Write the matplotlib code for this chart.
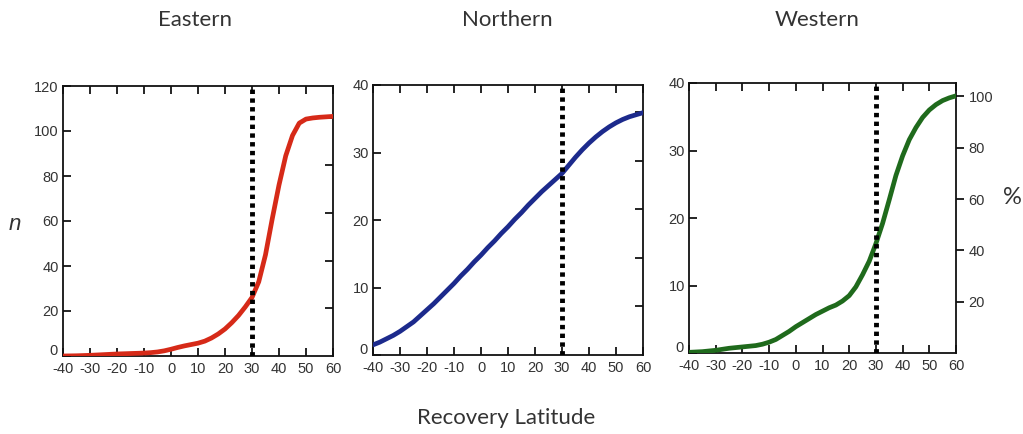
import matplotlib
matplotlib.use("Agg")
import matplotlib.pyplot as plt
from matplotlib.transforms import ScaledTranslation

plt.rcParams["font.family"] = ["Liberation Sans", "DejaVu Sans"]
plt.rcParams["axes.unicode_minus"] = False

# ---- data ----
titles = ["Eastern", "Northern", "Western"]
lat = [-40, -37.5, -35, -32.5, -30, -27.5, -25, -22.5, -20, -17.5, -15, -12.5, -10, -7.5,
       -5, -2.5, 0, 2.5, 5, 7.5, 10, 12.5, 15, 17.5, 20, 22.5, 25, 27.5, 30, 32.5, 35,
       37.5, 40, 42.5, 45, 47.5, 50, 52.5, 55, 57.5, 60]
eastern = [0, 0.05, 0.1, 0.2, 0.3, 0.45, 0.6, 0.75, 0.9, 1.0, 1.1, 1.2, 1.3, 1.5,
           1.8, 2.3, 3.0, 3.8, 4.5, 5.1, 5.7, 6.6, 8.0, 9.8, 12, 14.8, 18, 21.8, 26, 33, 45,
           61, 76, 89, 98, 103.5, 105.3, 105.8, 106.1, 106.3, 106.5]
northern = [1.5, 1.9, 2.4, 2.9, 3.5, 4.2, 4.9, 5.8, 6.7, 7.6, 8.6, 9.6, 10.6, 11.7,
            12.7, 13.8, 14.8, 15.9, 16.9, 18.0, 19.0, 20.1, 21.1, 22.2, 23.2, 24.2, 25.1, 26.0, 26.9, 28.1, 29.3,
            30.4, 31.4, 32.3, 33.1, 33.8, 34.4, 34.9, 35.3, 35.6, 35.9]
western = [0.1, 0.15, 0.2, 0.3, 0.4, 0.55, 0.7, 0.8, 0.9, 1.0, 1.1, 1.3, 1.6, 2.0,
           2.6, 3.2, 3.9, 4.5, 5.1, 5.7, 6.2, 6.7, 7.1, 7.7, 8.5, 9.8, 11.6, 13.6, 16.2, 19.2, 22.7,
           26.3, 29.2, 31.6, 33.4, 34.9, 36.0, 36.8, 37.4, 37.8, 38.1]
series = [eastern, northern, western]
colors = ["#d62a18", "#1c2a8c", "#1f6a1c"]
ymax = [120, 40, 40]
yticks = [[0, 20, 40, 60, 80, 100, 120], [0, 10, 20, 30, 40], [0, 10, 20, 30, 40]]
xticks = [-40, -30, -20, -10, 0, 10, 20, 30, 40, 50, 60]
n_total = [106, 36, 38]          # n corresponding to 100 %
pct_ticks = [20, 40, 60, 80, 100]
cutoff = 30

W, H = 1023, 434
fig = plt.figure(figsize=(W / 100, H / 100), dpi=100)
boxes = [(63, 333, 86, 356), (373, 643, 85, 355), (689, 956, 83, 353)]
title_x = [195, 507, 817]

label_font = ["Lato", "DejaVu Sans"]
tcol = "#333333"

for i in range(3):
    l, r, t, b = boxes[i]
    ax = fig.add_axes([l / W, (H - b) / H, (r - l) / W, (b - t) / H])
    ax.plot(lat, series[i], color=colors[i], lw=3.4, solid_capstyle="round",
            solid_joinstyle="round", zorder=3)
    ax.axvline(cutoff, color="black", lw=3.5, ls=(0, (0.9, 0.9)), zorder=4)
    ax.set_xlim(-40, 60)
    ax.set_ylim(0, ymax[i])
    ax.set_xticks(xticks)
    ax.set_yticks(yticks[i])
    ax.tick_params(axis="both", direction="in", length=6, width=1.2, colors="black",
                   labelcolor=tcol, labelsize=10.5, pad=3)
    ax.tick_params(axis="x", top=True, pad=4)
    for s in ax.spines.values():
        s.set_linewidth(1.3)
        s.set_color("#111111")
    # lift the y "0" label a little so it clears the x labels
    zero_lab = ax.yaxis.get_major_ticks()[0].label1
    zero_lab.set_transform(zero_lab.get_transform() +
                           ScaledTranslation(-1 / 72, 5 / 72, fig.dpi_scale_trans))
    nt = n_total[i]
    sec = ax.secondary_yaxis("right", functions=(lambda y, nt=nt: y / nt * 100,
                                                  lambda p, nt=nt: p * nt / 100))
    sec.set_yticks(pct_ticks)
    if i < 2:
        sec.tick_params(direction="in", length=6, width=1.2, labelright=False)
    else:
        sec.tick_params(direction="out", length=6, width=1.2, labelcolor=tcol,
                        labelsize=10.5, pad=3)
    sec.spines["right"].set_visible(False)
    fig.text(title_x[i] / W, (H - 20) / H, titles[i], ha="center", va="center",
             fontsize=16, family=label_font, color="#333333")

fig.text(15 / W, (H - 224) / H, "n", ha="center", va="center", fontsize=16,
         style="italic", color="#333333")
fig.text(1012 / W, (H - 197) / H, "%", ha="center", va="center", fontsize=17,
         family=label_font, color="#333333")
fig.text(506 / W, (H - 418) / H, "Recovery Latitude", ha="center", va="center",
         fontsize=16, family=label_font, color="#333333")

fig.savefig("out.png", dpi=100, facecolor="white")
